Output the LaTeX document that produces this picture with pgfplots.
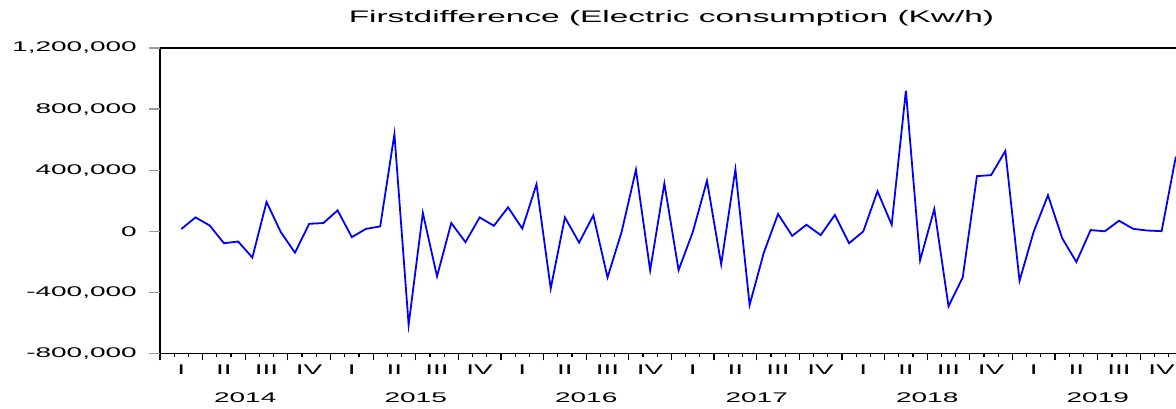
\documentclass[border=0pt]{standalone}
\usepackage{pgfplots}
\pgfplotsset{compat=1.18}
\usepackage{fontspec}
\setmainfont{Liberation Sans}
\newcommand{\sx}[1]{\scalebox{2}[1]{#1}}
\pgfplotstableread{
x y
1.5 15000
2.5 91000
3.5 38000
4.5 -78000
5.5 -67000
6.5 -172000
7.5 192000
8.5 -5000
9.5 -140000
10.5 49000
11.5 54000
12.5 137000
13.5 -38000
14.5 16000
15.5 32000
16.5 636000
17.5 -612000
18.5 120000
19.5 -295000
20.5 54000
21.5 -71000
22.5 91000
23.5 36000
24.5 157000
25.5 18000
26.5 308000
27.5 -374000
28.5 91000
29.5 -74000
30.5 104000
31.5 -302000
32.5 -1000
33.5 403000
34.5 -256000
35.5 313000
36.5 -254000
37.5 -5000
38.5 331000
39.5 -216000
40.5 405000
41.5 -482000
42.5 -140000
43.5 113000
44.5 -30000
45.5 43000
46.5 -25000
47.5 107000
48.5 -78000
49.5 -1000
50.5 262000
51.5 43000
52.5 921000
53.5 -190000
54.5 146000
55.5 -491000
56.5 -302000
57.5 361000
58.5 368000
59.5 526000
60.5 -324000
61.5 -1000
62.5 236000
63.5 -45000
64.5 -201000
65.5 8000
66.5 0
67.5 69000
68.5 16000
69.5 5000
70.5 1000
71.5 489000
}\datatable
\begin{document}
\begin{tikzpicture}
\begin{axis}[
  scale only axis, width=1023pt, height=305.5pt,
  xmin=0, xmax=72, ymin=-800000, ymax=1200000,
  axis line style={line width=1.1pt, black},
  tick align=outside, tick pos=left,
  major tick length=7pt, minor tick length=4pt,
  xtick style={line width=1.2pt, black},
  ytick style={line width=1.2pt, draw=black!40},
  xtick={0,3,...,72},
  xticklabels={,,\raisebox{-28pt}{\sx{2014}},,,,\raisebox{-28pt}{\sx{2015}},,,,\raisebox{-28pt}{\sx{2016}},,,,\raisebox{-28pt}{\sx{2017}},,,,\raisebox{-28pt}{\sx{2018}},,,,\raisebox{-28pt}{\sx{2019}},,},
  minor xtick={0,1,...,72},
  extra x ticks={1.5,4.5,...,70.5},
  extra x tick labels={\sx{I},\sx{II},\sx{III},\sx{IV},\sx{I},\sx{II},\sx{III},\sx{IV},\sx{I},\sx{II},\sx{III},\sx{IV},\sx{I},\sx{II},\sx{III},\sx{IV},\sx{I},\sx{II},\sx{III},\sx{IV},\sx{I},\sx{II},\sx{III},\sx{IV}},
  extra x tick style={xtick style={draw=none}},
  ytick=\empty,
  extra y ticks={-800000,-400000,0,400000,800000,1200000},
  extra y tick labels={{\sx{-800,000}},{\sx{-400,000}},{\sx{0}},{\sx{400,000}},{\sx{800,000}},{\sx{1,200,000}}},
  extra y tick style={major tick length=11pt, ytick style={draw=black!40}},
  tick label style={font=\fontsize{14}{16}\selectfont, inner sep=0pt},
  xticklabel style={anchor=base, yshift=-13.8pt},
  yticklabel style={anchor=east, xshift=-12pt},
  title={\sx{Firstdifference (Electric consumption (Kw/h)}},
  every axis title/.style={at={(0.5,1)}, anchor=base, yshift=25pt, inner sep=0pt, font=\fontsize{16.7}{19}\selectfont},
]
\addplot[color={rgb,255:red,0;green,0;blue,255}, line width=1.8pt, mark=none] table[x=x, y=y] {\datatable};
\end{axis}
\pgfresetboundingbox
\useasboundingbox (-160pt,-55.5pt) rectangle (1016pt,353.5pt);
\end{tikzpicture}
\end{document}
